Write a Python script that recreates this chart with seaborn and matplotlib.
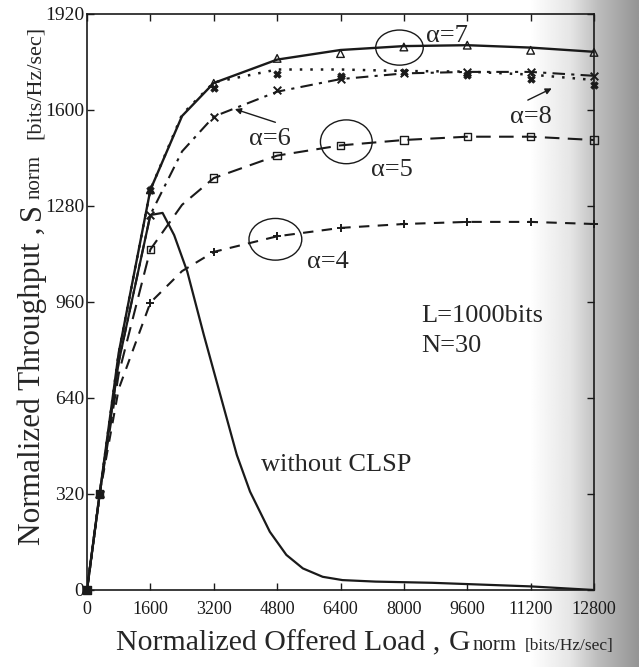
import numpy as np
import pandas as pd
import matplotlib
matplotlib.use("Agg")
import matplotlib.pyplot as plt
from matplotlib.patches import Ellipse
from matplotlib.transforms import IdentityTransform
import seaborn as sns

# ---------------- data ----------------
G_line = [0, 320, 800, 1600, 2400, 3200, 4800, 6400, 8000, 9600, 11200, 12800]
S7_line = [0, 320, 790, 1334, 1580, 1690, 1768, 1800, 1813, 1816, 1808, 1794]
S8_line = [0, 320, 790, 1334, 1585, 1692, 1735, 1735, 1730, 1728, 1718, 1700]
S6_line = [0, 320, 760, 1251, 1462, 1578, 1661, 1703, 1722, 1727, 1727, 1714]
S5_line = [0, 320, 720, 1135, 1284, 1373, 1448, 1482, 1500, 1511, 1511, 1500]
S4_line = [0, 320, 670, 958, 1063, 1127, 1179, 1207, 1220, 1227, 1227, 1220]

G_mk = [0, 320, 1600, 3200, 4800, 6400, 8000, 9600, 11200, 12800]
S7_mk = [0, 320, 1334, 1689, 1772, 1788, 1810, 1816, 1799, 1792]
S8_mk = [0, 320, 1334, 1672, 1719, 1714, 1726, 1717, 1705, 1683]
S6_mk = [0, 320, 1251, 1578, 1667, 1703, 1722, 1727, 1728, 1714]
S5_mk = [0, 320, 1135, 1373, 1448, 1482, 1500, 1511, 1511, 1500]
S4_mk = [0, 320, 958, 1127, 1179, 1207, 1220, 1227, 1227, 1220]

G_noclsp = [0, 320, 800, 1600, 1908, 2200, 2532, 2950, 3366, 3783, 4116, 4616,
            5033, 5450, 5950, 6450, 7283, 8711, 11200, 12800]
S_noclsp = [0, 320, 760, 1250, 1257, 1183, 1061, 850, 650, 450, 328, 194,
            117, 72, 44, 33, 28, 24, 12, 0]

x_ticks = [0, 1600, 3200, 4800, 6400, 8000, 9600, 11200, 12800]
y_ticks = [0, 320, 640, 960, 1280, 1600, 1920]

# ---------------- style ----------------
sns.set_theme(style="ticks")
plt.rcParams["font.family"] = ["Liberation Serif", "DejaVu Serif"]
plt.rcParams["mathtext.fontset"] = "stix"

W, H = 639, 667
fig = plt.figure(figsize=(W / 100, H / 100), dpi=100)
fig.patch.set_facecolor("white")

# scanned-page grey shading on the right
bg = fig.add_axes([0, 0, 1, 1], zorder=-10)
xs = np.arange(W)
shade = np.interp(xs, [0, 530, 570, 598, 639], [1.0, 1.0, 0.9, 0.74, 0.58])
bg.imshow(np.tile(shade, (8, 1)), cmap="gray", vmin=0, vmax=1,
          aspect="auto", extent=[0, 1, 0, 1], interpolation="bilinear")
bg.axis("off")

ax = fig.add_axes([87 / W, 1 - 590 / H, (594 - 87) / W, (590 - 14) / H])
ax.set_facecolor("none")

lw = 1.5
sns.lineplot(x=G_line, y=S7_line, ax=ax, color="k", lw=1.7, linestyle="-")
sns.lineplot(x=G_line, y=S8_line, ax=ax, color="k", lw=1.8, linestyle=(0, (1, 3.2)))
sns.lineplot(x=G_line, y=S6_line, ax=ax, color="k", lw=lw, linestyle=(0, (6, 3, 1.5, 3)))
sns.lineplot(x=G_line, y=S5_line, ax=ax, color="k", lw=lw, linestyle=(0, (7, 4)))
sns.lineplot(x=G_line, y=S4_line, ax=ax, color="k", lw=lw, linestyle=(0, (5, 4)))
sns.lineplot(x=G_noclsp, y=S_noclsp, ax=ax, color="k", lw=1.6, linestyle="-")

mk_kw = dict(ax=ax, color="k", edgecolor="k", zorder=4, clip_on=False)
sns.scatterplot(x=G_mk, y=S7_mk, marker="^", s=30, facecolor="none", linewidth=1.0, **mk_kw)
sns.scatterplot(x=G_mk, y=S8_mk, marker="X", s=28, linewidth=0.6, **mk_kw)
sns.scatterplot(x=G_mk, y=S6_mk, marker="x", s=30, linewidth=1.4, **mk_kw)
sns.scatterplot(x=G_mk, y=S5_mk, marker="s", s=28, facecolor="none", linewidth=1.0, **mk_kw)
sns.scatterplot(x=G_mk, y=S4_mk, marker="+", s=38, linewidth=1.4, **mk_kw)

ax.set_xlim(0, 12800)
ax.set_ylim(0, 1920)
ax.set_xticks(x_ticks)
ax.set_yticks(y_ticks)
ax.set_xticklabels([str(v) for v in x_ticks])
ax.set_yticklabels([str(v) for v in y_ticks])
ax.tick_params(direction="in", top=True, right=True, length=5, width=1.0,
               labelsize=13, colors="k")
ax.tick_params(axis="x", pad=8)
ax.tick_params(axis="y", pad=2, labelsize=14)
for s in ax.spines.values():
    s.set_linewidth(1.2)
    s.set_color("k")
ax.set_xlabel("")
ax.set_ylabel("")

# ---------------- annotations ----------------
tfs = 19
ax.text(8550, 1827, "α=7", fontsize=tfs, ha="left", va="baseline")
ax.text(4089, 1484, "α=6", fontsize=tfs, ha="left", va="baseline")
ax.text(7182, 1379, "α=5", fontsize=tfs, ha="left", va="baseline")
ax.text(5556, 1074, "α=4", fontsize=tfs, ha="left", va="baseline")
ax.text(10684, 1556, "α=8", fontsize=tfs, ha="left", va="baseline")
ax.text(8444, 894, "L=1000bits", fontsize=tfs, ha="left", va="baseline")
ax.text(8444, 794, "N=30", fontsize=tfs, ha="left", va="baseline")
ax.text(4400, 398, "without CLSP", fontsize=tfs, ha="left", va="baseline")

for (cx, cy, w, h) in [(7889, 1808, 1200, 117), (6547, 1494, 1307, 146), (4756, 1169, 1333, 139)]:
    ax.add_patch(Ellipse((cx, cy), w, h, fill=False, ec="k", lw=1.0))

arrow = dict(arrowstyle="-|>", color="k", lw=1.0, mutation_scale=9, shrinkA=0, shrinkB=0)
ax.annotate("", xy=(3733, 1603), xytext=(4756, 1559), arrowprops=arrow)
ax.annotate("", xy=(11733, 1672), xytext=(11129, 1633), arrowprops=arrow)

# ---------------- axis labels (mixed sizes) ----------------
fig.canvas.draw()
renderer = fig.canvas.get_renderer()
idt = IdentityTransform()


def seq_text(pieces, x0, y0, rotated=False):
    pos = y0 if rotated else x0
    for s, size, gap in pieces:
        if rotated:
            t = fig.text(x0, pos, s, fontsize=size, rotation=90, rotation_mode="anchor",
                         ha="left", va="baseline", transform=idt)
            pos += t.get_window_extent(renderer).height + gap
        else:
            t = fig.text(pos, y0, s, fontsize=size, ha="left", va="baseline", transform=idt)
            pos += t.get_window_extent(renderer).width + gap


seq_text([("Normalized Offered Load ,", 21.5, 9), ("G", 21.5, 2),
          ("norm", 15, 8), ("[bits/Hz/sec]", 12.5, 0)], 116, H - 650)
seq_text([("Normalized Throughput ,", 22.5, 6), ("S", 22, 5),
          ("norm", 15, 16), ("[bits/Hz/sec]", 16, 0)], 40, H - 545, rotated=True)

fig.savefig("out.png", dpi=100)
